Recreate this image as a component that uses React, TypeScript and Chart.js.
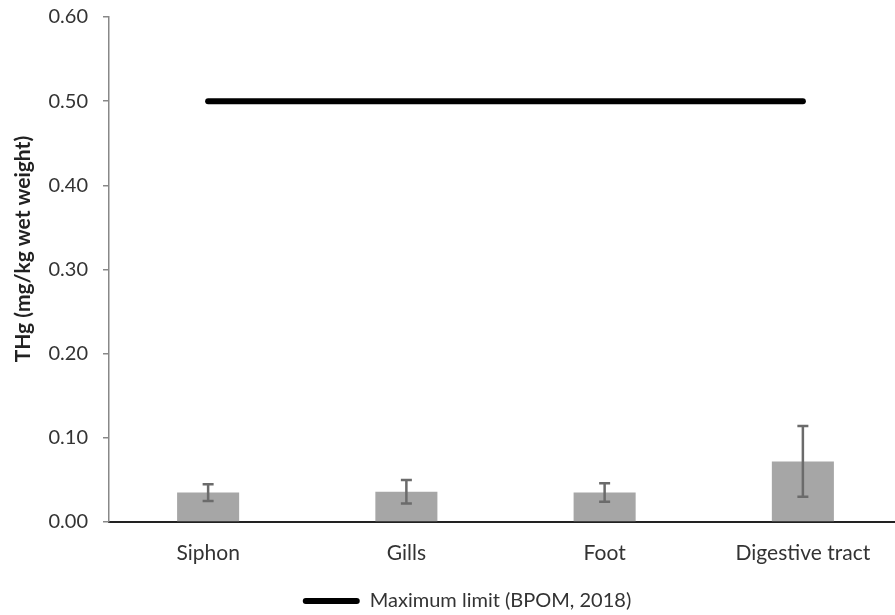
import React, { useEffect, useRef } from "react";
import { Chart, registerables } from "chart.js";

Chart.register(...registerables);

const categories = ["Siphon", "Gills", "Foot", "Digestive tract"];
const meanValues = [0.035, 0.036, 0.035, 0.072];
const errorValues = [0.010, 0.014, 0.011, 0.042];
const limitValues = [0.5, 0.5, 0.5, 0.5];
const yTicks = [0, 0.1, 0.2, 0.3, 0.4, 0.5, 0.6];
const yTitle = "THg (mg/kg wet weight)";
const limitLabel = "Maximum limit (BPOM, 2018)";

const FONT = "Lato";

const errorBarPlugin = {
  id: "errorBars",
  afterDatasetsDraw(chart: any) {
    const meta = chart.getDatasetMeta(0);
    const y = chart.scales.y;
    const ctx = chart.ctx;
    ctx.save();
    ctx.strokeStyle = "#6b6b6b";
    ctx.lineWidth = 2.5;
    meta.data.forEach((el: any, i: number) => {
      const top = y.getPixelForValue(meanValues[i] + errorValues[i]);
      const bot = y.getPixelForValue(meanValues[i] - errorValues[i]);
      const x = el.x;
      ctx.beginPath();
      ctx.moveTo(x, top);
      ctx.lineTo(x, bot);
      ctx.moveTo(x - 5.5, top);
      ctx.lineTo(x + 5.5, top);
      ctx.moveTo(x - 5.5, bot);
      ctx.lineTo(x + 5.5, bot);
      ctx.stroke();
    });
    ctx.restore();
  },
};

const legendShift = {
  id: "legendShift",
  afterLayout(chart: any) {
    if (chart.legend) {
      chart.legend.left += 32;
      chart.legend.top += 6;
    }
  },
};

export default function App() {
  const ref = useRef<HTMLCanvasElement>(null);
  useEffect(() => {
    document.body.style.margin = "0";
    document.body.style.overflow = "hidden";
    const chart = new Chart(ref.current!, {
      type: "bar",
      data: {
        labels: categories,
        datasets: [
          {
            type: "bar",
            label: "THg",
            data: meanValues,
            backgroundColor: "#a6a6a6",
            grouped: false,
            barPercentage: 0.626,
            categoryPercentage: 0.5,
            order: 2,
          } as any,
          {
            type: "line",
            label: limitLabel,
            data: limitValues,
            borderColor: "#000000",
            backgroundColor: "#000000",
            borderWidth: 6,
            borderCapStyle: "round",
            pointRadius: 0,
            order: 1,
          } as any,
        ],
      },
      options: {
        animation: false,
        responsive: false,
        maintainAspectRatio: false,
        layout: { padding: { top: 17, right: 0, left: 0, bottom: 0 } },
        scales: {
          x: {
            type: "category",
            offset: true,
            grid: { display: false, drawTicks: false },
            border: { display: true, color: "#222", width: 2 },
            ticks: { color: "#333", font: { family: FONT, size: 21 }, padding: 19 },
            afterFit(s: any) {
              s.height = 57;
            },
          },
          y: {
            min: 0,
            max: 0.6,
            afterBuildTicks(s: any) {
              s.ticks = yTicks.map((v) => ({ value: v }));
            },
            afterFit(s: any) {
              s.width = 109;
              s.paddingTop = 0;
              s.paddingBottom = 0;
            },
            grid: {
              display: true,
              drawOnChartArea: false,
              drawTicks: true,
              tickLength: 6,
              color: "#888",
              lineWidth: 1.5,
            },
            border: { display: true, color: "#888", width: 1.5 },
            ticks: {
              color: "#333",
              padding: 15,
              font: { family: FONT, size: 20 },
              callback: (v: any) => Number(v).toFixed(2),
            },
            title: {
              display: true,
              text: "        " + yTitle,
              color: "#222",
              font: { family: FONT, size: 21, weight: "bold" },
              padding: { top: 11, bottom: 0 },
            },
          },
        },
        plugins: {
          legend: {
            position: "bottom",
            labels: {
              generateLabels: (c: any) =>
                Chart.defaults.plugins.legend.labels
                  .generateLabels(c)
                  .filter((it: any) => it.datasetIndex === 1)
                  .map((it: any) => ({
                    ...it,
                    fillStyle: "#000",
                    strokeStyle: "#000",
                    lineWidth: 0,
                    borderRadius: 3,
                  })),
              usePointStyle: false,
              useBorderRadius: true,
              boxWidth: 57,
              boxHeight: 6,
              color: "#333",
              font: { family: FONT, size: 20 },
              padding: 6,
            },
          },
          tooltip: { enabled: false },
        },
      },
      plugins: [errorBarPlugin, legendShift],
    } as any);
    return () => chart.destroy();
  }, []);
  return (
    <div style={{ position: "absolute", left: 0, top: 0, width: 902, height: 615, overflow: "hidden" }}>
      <canvas ref={ref} width={902} height={615} style={{ width: 902, height: 615 }} />
    </div>
  );
}
